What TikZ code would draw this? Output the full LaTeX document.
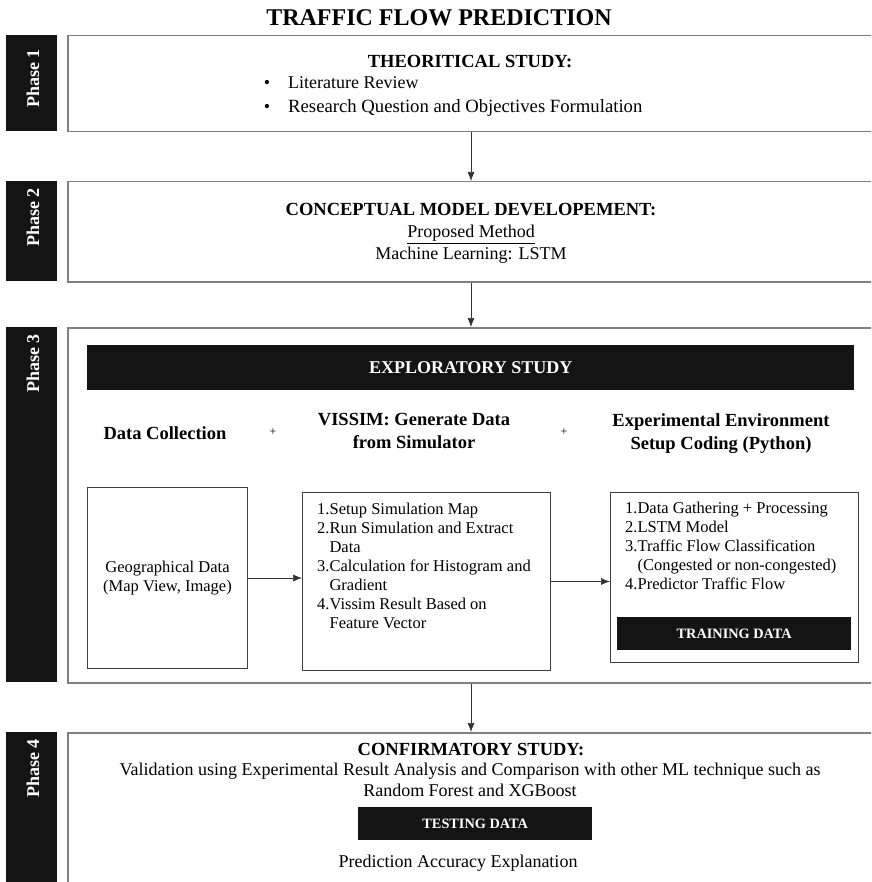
\documentclass[tikz,border=0pt]{standalone}
\usepackage{fontspec}
\setmainfont{Liberation Serif}
\usetikzlibrary{arrows.meta}

\tikzset{
  phasebox/.style={draw=black!50, line width=1.5pt, anchor=north west, inner sep=0pt},
  phaselabel/.style={fill=black!92, anchor=north west, inner sep=0pt, minimum width=51pt},
  phasetext/.style={text=white, font=\bfseries\fontsize{18}{21}\selectfont, rotate=90, anchor=east, inner sep=0pt},
  bar/.style={fill=black!92, text=white, font=\bfseries\fontsize{18}{21}\selectfont, inner sep=0pt, anchor=north west},
  smallbar/.style={bar, font=\bfseries\fontsize{14.3}{17}\selectfont},
  inbox/.style={draw=black!75, line width=1pt, anchor=north west, inner sep=0pt},
  body/.style={font=\fontsize{16.5}{19}\selectfont, inner sep=0pt},
  bigbody/.style={font=\fontsize{18}{21}\selectfont, inner sep=0pt},
  head/.style={font=\bfseries\fontsize{18.5}{23}\selectfont, inner sep=0pt},
  flow/.style={-{Latex[length=9pt,width=7pt]}, draw=black!80, line width=0.7pt},
}

\begin{document}
\begin{tikzpicture}[x=1pt, y=-1pt]
  \useasboundingbox (0,0) rectangle (871,882);
  \clip (0,0) rectangle (871,882);

  % title
  \node[font=\bfseries\fontsize{24}{28}\selectfont, inner sep=0pt, anchor=base] (title) at (439,26) {TRAFFIC FLOW PREDICTION};

  % phase boxes
  \node[phasebox, minimum width=813pt, minimum height=96pt] (p1) at (67,35) {};
  \node[phasebox, minimum width=813pt, minimum height=100pt] (p2) at (67,181) {};
  \node[phasebox, minimum width=813pt, minimum height=355pt] (p3) at (67,327) {};
  \node[phasebox, minimum width=813pt, minimum height=200pt] (p4) at (67,732) {};

  % phase labels
  \foreach \n/\yy/\hh/\dd in {1/35/96/14, 2/181/100/7, 3/327/355/7, 4/732/200/7} {
    \node[phaselabel, minimum height=\hh pt] (l\n) at (6,\yy) {};
    \node[phasetext] (t\n) at (33,\yy+\dd) {Phase \n};
  }

  % phase 1
  \node[head, anchor=base] (theo) at (470,68) {THEORITICAL STUDY:};
  \node[bigbody, anchor=base] (b1) at (267,89) {\textbullet};
  \node[bigbody, anchor=base west] (lit) at (288,89) {Literature Review};
  \node[bigbody, anchor=base] (b2) at (267,113) {\textbullet};
  \node[bigbody, anchor=base west, font=\fontsize{18.7}{21}\selectfont] (rq) at (288,113) {Research Question and Objectives Formulation};

  % phase 2
  \node[head, anchor=base] (cmd) at (471,216) {CONCEPTUAL MODEL DEVELOPEMENT:};
  \node[bigbody, anchor=base] (pm) at (471,238) {\underline{Proposed Method}};
  \node[bigbody, anchor=base] (ml) at (471,259) {Machine Learning: LSTM};

  % phase 3
  \node[bar, minimum width=767pt, minimum height=45pt] (expl) at (87,345) {EXPLORATORY STUDY};
  \node[head, anchor=base] (dc) at (165,439) {Data Collection};
  \node[body, font=\fontsize{12}{14}\selectfont] (plus1) at (273,432) {+};
  \node[head, align=center, anchor=north] (vh) at (414,413.5) {VISSIM: Generate Data\\from Simulator};
  \node[body, font=\fontsize{12}{14}\selectfont] (plus2) at (564,432) {+};
  \node[head, align=center, anchor=north] (eh) at (721,413.5) {Experimental Environment\\Setup Coding (Python)};

  \node[inbox, minimum width=160pt, minimum height=181pt] (geo) at (87,487) {};
  \node[body, align=center] (geot) at (geo.center) {Geographical Data\\(Map View, Image)};

  \node[inbox, minimum width=248pt, minimum height=178pt] (vis) at (302,492) {};
  \node[body, align=left, anchor=north west] (vist) at (317,503) {1.Setup Simulation Map\\2.Run Simulation and Extract\\\phantom{2.}Data\\3.Calculation for Histogram and\\\phantom{3.}Gradient\\4.Vissim Result Based on\\\phantom{4.}Feature Vector};

  \node[inbox, minimum width=248pt, minimum height=170pt] (exb) at (610,492) {};
  \node[body, align=left, anchor=north west] (ext) at (625,502) {1.Data Gathering + Processing\\2.LSTM Model\\3.Traffic Flow Classification\\\phantom{3.}(Congested or non-congested)\\4.Predictor Traffic Flow};
  \node[smallbar, minimum width=234pt, minimum height=33pt] (train) at (617,617) {TRAINING DATA};

  % phase 4
  \node[head, anchor=base] (conf) at (471,755) {CONFIRMATORY STUDY:};
  \node[bigbody, align=center, anchor=north] (val) at (470,762.5) {Validation using Experimental Result Analysis and Comparison with other ML technique such as\\Random Forest and XGBoost};
  \node[smallbar, minimum width=234pt, minimum height=33pt] (test) at (358,807) {TESTING DATA};
  \node[bigbody, anchor=base] (acc) at (458,867) {Prediction Accuracy Explanation};

  % connectors
  \coordinate (axis) at (471,0);
  \draw[flow] (p1.south -| axis) -- (p2.north -| axis);
  \draw[flow] (p2.south -| axis) -- (p3.north -| axis);
  \draw[flow] (p3.south -| axis) -- (p4.north -| axis);
  \draw[flow] (geo.east) -- (geo.east -| vis.west);
  \draw[flow] (vis.east) -- (vis.east -| exb.west);
\end{tikzpicture}
\end{document}
